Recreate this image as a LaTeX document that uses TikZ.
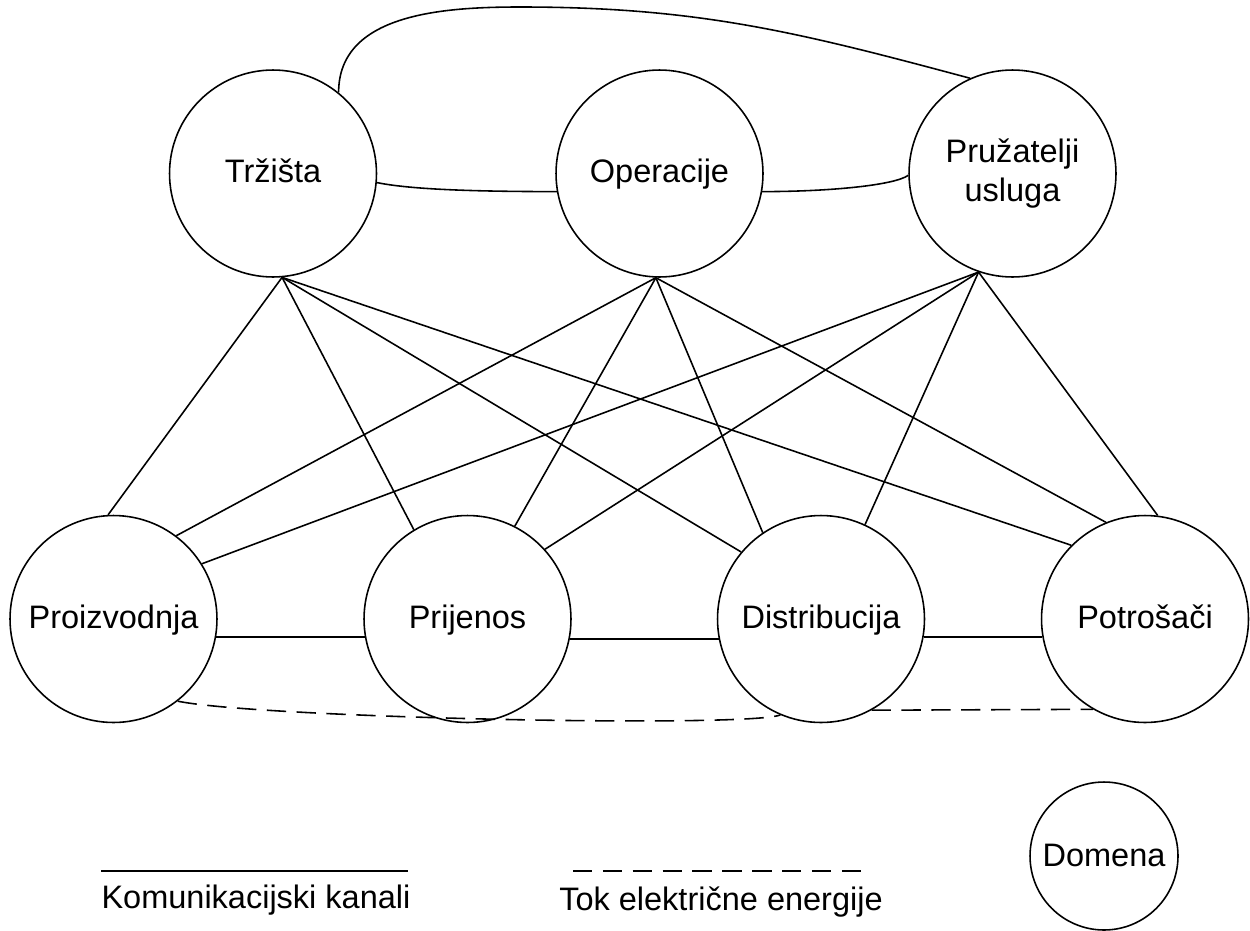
\documentclass[tikz,border=0pt]{standalone}
\usepackage{fontspec}
\setmainfont{Liberation Sans}
\begin{document}
\begin{tikzpicture}[x=0.02cm, y=-0.02cm, line width=0.9pt,
  dom/.style={draw, circle, inner sep=0pt, minimum size=4.14cm, align=center,
              font=\fontsize{18.5}{22.5}\selectfont},
  oneline/.style={text height=14.5pt, text depth=3.7pt},
  legtext/.style={anchor=base, inner sep=0pt, font=\fontsize{18.5}{22.5}\selectfont},
  flow/.style={dash pattern=on 11pt off 6pt}]
\useasboundingbox (0,0) rectangle (1250,930);

% domains
\node[dom, oneline] (T) at (273,173.5) {Tržišta};
\node[dom, oneline] (O) at (659.5,173.5) {Operacije};
\node[dom] (P) at (1012.5,173.5) {Pružatelji\\usluga};
\node[dom, oneline] (G) at (113.5,619) {Proizvodnja};
\node[dom, oneline] (R) at (467.5,619) {Prijenos};
\node[dom, oneline] (D) at (821,619) {Distribucija};
\node[dom, oneline] (C) at (1145,619) {Potrošači};
\node[dom, oneline, text height=15.8pt, minimum size=2.96cm] (L) at (1104,856) {Domena};

% communication channels top -> bottom
\draw (T.275) -- (G.93);
\draw (T.275) -- (R.121);
\draw (T.275) -- (D.140);
\draw (T.275) -- (C.135);
\draw (O.268) -- (G.53);
\draw (O.268) -- (R.63);
\draw (O.268) -- (D.124);
\draw (O.268) -- (C.112);
\draw (P.251) -- (G.32);
\draw (P.251) -- (R.42.5);
\draw (P.251) -- (D.65);
\draw (P.251) -- (C.83);

% bottom row channels
\draw (G.-10.5) -- (R.190.5);
\draw (R.-11) -- (D.191);
\draw (D.-10.5) -- (C.190.5);

% top row channels
\draw (T.-5) .. controls +(25,5) and +(-110,0) .. (O.190);
\draw (O.-10) .. controls +(67,0) and +(-14,10) .. (P.181);
\coordinate (topc) at (520,7);
\draw (T.51) to[out=90,in=180] (topc) to[out=0,in=165] (P.114);

% energy flow
\draw[flow] (G.-52.5) .. controls (260,718) and (745,728) .. (D.247);
\draw[flow] (D.-61) -- (C.240);

% legend
\coordinate (k1) at (101,871);
\coordinate (k2) at (408,871);
\draw (k1) -- (k2);
\node[legtext] (kt) at (256,908) {Komunikacijski kanali};
\coordinate (e1) at (573,871);
\coordinate (e2) at (867,871);
\draw[flow] (e1) -- (e2);
\node[legtext] (et) at (721,910) {Tok električne energije};
\end{tikzpicture}
\end{document}
